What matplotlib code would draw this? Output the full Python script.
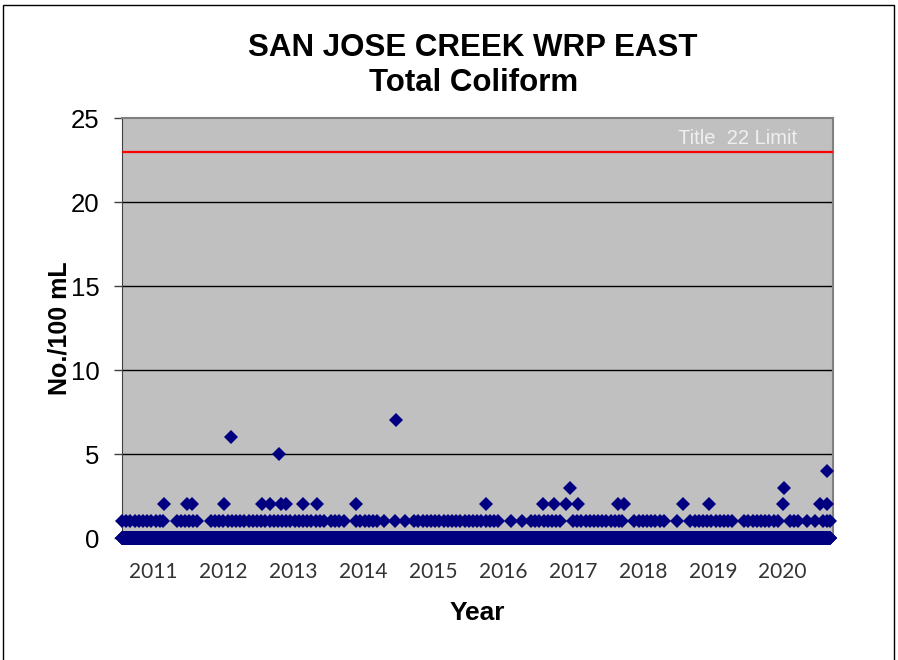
import matplotlib.pyplot as plt
import numpy as np
from matplotlib.patches import Rectangle
from matplotlib.transforms import blended_transform_factory

# sample dates as decimal years, results in No./100 mL
start_year = 2010.55
end_year = 2020.68

ones_dates = [
    2010.55, 2010.61, 2010.67, 2010.73, 2010.79, 2010.85, 2010.91, 2010.97, 2011.03, 2011.09, 2011.14,
    2011.33, 2011.39, 2011.45, 2011.51, 2011.57, 2011.62,
    2011.82, 2011.88, 2011.94, 2012.00, 2012.06, 2012.12, 2012.18, 2012.24, 2012.30, 2012.36,
    2012.42, 2012.48, 2012.54, 2012.60, 2012.66, 2012.72, 2012.78, 2012.84, 2012.90, 2012.96,
    2013.02, 2013.08, 2013.14, 2013.20, 2013.26, 2013.32, 2013.38, 2013.44, 2013.54, 2013.60,
    2013.66, 2013.72,
    2013.90, 2013.96, 2014.02, 2014.08, 2014.14, 2014.20,
    2014.30, 2014.46, 2014.60,
    2014.73, 2014.79, 2014.85, 2014.91, 2014.97, 2015.03, 2015.09, 2015.15, 2015.21, 2015.27,
    2015.33, 2015.39, 2015.45, 2015.51, 2015.57, 2015.63, 2015.69, 2015.75, 2015.81, 2015.87, 2015.93,
    2016.12, 2016.27,
    2016.40, 2016.46, 2016.52, 2016.58, 2016.64, 2016.70, 2016.76, 2016.82,
    2017.00, 2017.06, 2017.12, 2017.18, 2017.24, 2017.30, 2017.36, 2017.42, 2017.48, 2017.54,
    2017.60, 2017.66, 2017.70,
    2017.88, 2017.94, 2018.00, 2018.06, 2018.12, 2018.18, 2018.24, 2018.30,
    2018.49,
    2018.68, 2018.74, 2018.80, 2018.86, 2018.92, 2018.98, 2019.04, 2019.10, 2019.16, 2019.22, 2019.27,
    2019.45, 2019.51, 2019.57, 2019.63, 2019.69, 2019.75, 2019.81, 2019.87, 2019.93,
    2020.10, 2020.16, 2020.22,
    2020.35, 2020.46,
    2020.57, 2020.63, 2020.68,
]

high_dates = [
    2011.15, 2011.48, 2011.55, 2012.01, 2012.55, 2012.67, 2012.82, 2012.90, 2013.14, 2013.34,
    2013.90, 2015.76, 2016.57, 2016.73, 2016.90, 2017.07, 2017.65, 2017.73, 2018.58, 2018.95,
    2020.00, 2020.54, 2020.64,
    2016.96, 2020.02,
    2020.64,
    2012.80,
    2012.11,
    2014.47,
]
high_values = [
    2, 2, 2, 2, 2, 2, 2, 2, 2, 2,
    2, 2, 2, 2, 2, 2, 2, 2, 2, 2,
    2, 2, 2,
    3, 3,
    4,
    5,
    6,
    7,
]

limit = 23
years = [2011, 2012, 2013, 2014, 2015, 2016, 2017, 2018, 2019, 2020]

# daily sampling; every day not listed above reads 0
zero_dates = np.arange(start_year, end_year + 1e-9, 1 / 365.0)
zero_values = np.zeros(len(zero_dates))

fig = plt.figure(figsize=(8.98, 6.6), dpi=100)
ax = fig.add_axes([122 / 898, 1 - 538 / 660, 711 / 898, 420 / 660])
ax.set_facecolor("#c0c0c0")

navy = "#000080"
ms = 7.6
ax.plot(zero_dates, zero_values, "D", color=navy, ms=ms, mew=0, clip_on=False, zorder=3)
ax.plot(ones_dates, np.ones(len(ones_dates)), "D", color=navy, ms=ms, mew=0, clip_on=False, zorder=3)
ax.plot(high_dates, high_values, "D", color=navy, ms=ms, mew=0, clip_on=False, zorder=3)

ax.axhline(limit, color="#ff0000", lw=1.6, zorder=4)
trans = blended_transform_factory(ax.transAxes, ax.transData)
ax.text(0.949, limit + 0.45, "Title  22 Limit", transform=trans,
        color="#f0f0f0", fontsize=14.5, family="Liberation Sans", ha="right", va="baseline")

ax.set_xlim(2010.55, 2020.72)
ax.set_ylim(0, 25)
ax.set_yticks([0, 5, 10, 15, 20, 25])
ax.set_xticks(years)
ax.set_xticklabels([str(y) for y in years], family="Lato", fontsize=15, color="#333333")
for lab in ax.get_yticklabels():
    lab.set_family("Liberation Sans")
    lab.set_fontsize(18.5)
ax.tick_params(axis="y", direction="out", length=6, width=1, pad=10, color="#404040")
ax.tick_params(axis="x", length=0, pad=17)

for yv in [5, 10, 15, 20]:
    ax.axhline(yv, color="black", lw=1, zorder=1)

ax.spines["left"].set_color("#404040")
ax.spines["bottom"].set_color("#404040")
ax.spines["top"].set_color("#808080")
ax.spines["right"].set_color("#808080")
ax.spines["top"].set_linewidth(1.5)
ax.spines["right"].set_linewidth(1.5)

ax.set_ylabel("No./100 mL", family="Liberation Sans", fontsize=18, fontweight="bold", labelpad=0)
ax.set_xlabel("Year", family="Liberation Sans", fontsize=19, fontweight="bold", labelpad=14)

fig.text(0.527, 1 - 48 / 660, "SAN JOSE CREEK WRP EAST", family="Liberation Sans", fontsize=22.5,
         fontweight="bold", ha="center", va="center")
fig.text(0.527, 1 - 83 / 660, "Total Coliform", family="Liberation Sans", fontsize=22.5,
         fontweight="bold", ha="center", va="center")

fig.patches.append(Rectangle((3 / 898, -0.02), 891 / 898, 1.02 - 5 / 660, transform=fig.transFigure,
                             fill=False, edgecolor="black", lw=1))

fig.savefig("out.png", dpi=100)
